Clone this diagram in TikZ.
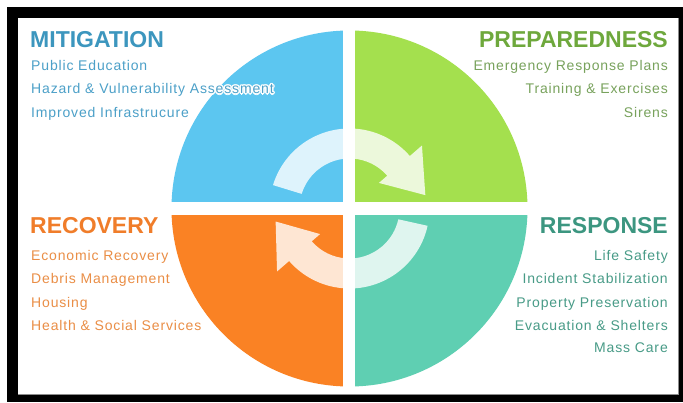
\documentclass[tikz,border=0pt]{standalone}
\usepackage{fontspec}
\setmainfont{Liberation Sans}
\newfontfamily\itemfont[LetterSpace=6]{Liberation Sans}
\usetikzlibrary{calc}
\definecolor{qblue}{RGB}{92,198,240}
\definecolor{qgreen}{RGB}{164,224,78}
\definecolor{qorange}{RGB}{250,130,36}
\definecolor{qteal}{RGB}{95,207,178}
\definecolor{mitT}{RGB}{60,150,190}
\definecolor{mitI}{RGB}{76,160,200}
\definecolor{preT}{RGB}{110,168,60}
\definecolor{preI}{RGB}{120,162,92}
\definecolor{recT}{RGB}{240,125,42}
\definecolor{recI}{RGB}{234,142,70}
\definecolor{resT}{RGB}{60,150,128}
\definecolor{resI}{RGB}{72,155,135}
\begin{document}
\begin{tikzpicture}[x=1pt,y=1pt,
  title/.style={inner sep=0pt, font=\fontsize{23}{23}\selectfont\bfseries},
  itm/.style={inner sep=0pt, font=\itemfont\fontsize{14}{14}\selectfont},
  arrowfill/.style={fill=white, fill opacity=0.8},
  quad/.style={draw=none}]
\useasboundingbox (0,0) rectangle (683,402);
\fill[white] (0,0) rectangle (683,402);
\fill[black] (7,0) rectangle (683,395);
\fill[white] (18,7) rectangle (679,384);
\draw[black!45, line width=1pt] (18,7.5) -- (678.5,7.5) -- (678.5,384);
\coordinate (C) at (349.5,193.5);
% quadrants
\fill[qblue] (C) -- ++(180:178pt) arc[start angle=180, end angle=90, radius=178pt] -- cycle;
\fill[qgreen] (C) -- ++(90:178pt) arc[start angle=90, end angle=0, radius=178pt] -- cycle;
\fill[qteal] (C) -- ++(0:178pt) arc[start angle=0, end angle=-90, radius=178pt] -- cycle;
\fill[qorange] (C) -- ++(-90:178pt) arc[start angle=-90, end angle=-180, radius=178pt] -- cycle;
% gaps
\fill[white] (343,10) rectangle (355,380);
\fill[white] (160,187) rectangle (540,200);
% cycle arrows
\begin{scope}[shift={(C)}]
\fill[arrowfill] (163:80pt) arc[start angle=163, end angle=41, radius=80pt]
  -- (41:96pt) -- (10:77pt) -- (41:39pt) -- (41:50pt)
  arc[start angle=41, end angle=163, radius=50pt] -- cycle;
\fill[arrowfill] (-12.5:80pt) arc[start angle=-12.5, end angle=-139, radius=80pt]
  -- (-139:96pt) -- (-170:75pt) -- (-139:39pt) -- (-139:50pt)
  arc[start angle=-139, end angle=-12.5, radius=50pt] -- cycle;
\end{scope}
% MITIGATION
\node[title, text=mitT, anchor=base west] (mit) at (30,354.5) {MITIGATION};
\node[itm, text=mitI, anchor=base west] (mit1) at (31,331.5) {Public Education};
\foreach \dx/\dy [count=\i] in {-1/0,1/0,0/-1,0/1,-1/-1,1/1,-1/1,1/-1,-1.5/0,1.5/0,0/1.5,0/-1.5}
  \node[itm, text=white, anchor=base west] (halo\i) at ($(31,308)+(\dx,\dy)$) {Hazard \& Vulnerability Assessment};
\node[itm, text=mitI, anchor=base west] (mit2) at (31,308) {Hazard \& Vulnerability Assessment};
\node[itm, text=mitI, anchor=base west] (mit3) at (31,284.5) {Improved Infrastrucure};
% PREPAREDNESS
\node[title, text=preT, anchor=base east] (prep) at (668,354.5) {PREPAREDNESS};
\node[itm, text=preI, anchor=base east] (prep1) at (668,331.5) {Emergency Response Plans};
\node[itm, text=preI, anchor=base east] (prep2) at (668,308) {Training \& Exercises};
\node[itm, text=preI, anchor=base east] (prep3) at (668,284.5) {Sirens};
% RECOVERY
\node[title, text=recT, anchor=base west] (rec) at (30,168) {RECOVERY};
\node[itm, text=recI, anchor=base west] (rec1) at (31,141) {Economic Recovery};
\node[itm, text=recI, anchor=base west] (rec2) at (31,118) {Debris Management};
\node[itm, text=recI, anchor=base west] (rec3) at (31,95) {Housing};
\node[itm, text=recI, anchor=base west] (rec4) at (31,72) {Health \& Social Services};
% RESPONSE
\node[title, text=resT, anchor=base east] (res) at (668,168) {RESPONSE};
\node[itm, text=resI, anchor=base east] (res1) at (668,141) {Life Safety};
\node[itm, text=resI, anchor=base east] (res2) at (668,118) {Incident Stabilization};
\node[itm, text=resI, anchor=base east] (res3) at (668,95) {Property Preservation};
\node[itm, text=resI, anchor=base east] (res4) at (668,72) {Evacuation \& Shelters};
\node[itm, text=resI, anchor=base east] (res5) at (668,49) {Mass Care};
\end{tikzpicture}
\end{document}
